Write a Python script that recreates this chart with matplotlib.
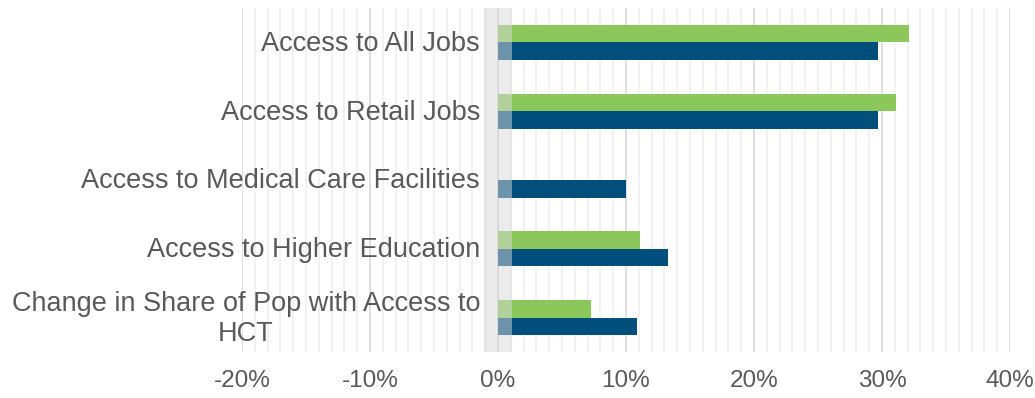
import numpy as np
import matplotlib.pyplot as plt
from matplotlib.ticker import MultipleLocator, FuncFormatter

# change in access, percent
categories = ["Access to All Jobs", "Access to Retail Jobs",
              "Access to Medical Care Facilities", "Access to Higher Education",
              "Change in Share of Pop with Access to\nHCT"]
green_vals = [32.1, 31.1, 0.0, 11.1, 7.3]
blue_vals = [29.7, 29.7, 10.0, 13.3, 10.9]

GREEN = "#8BC75B"
BLUE = "#004E7C"
TEXT = "#595959"

plt.rcParams['font.family'] = ['Liberation Sans', 'DejaVu Sans']

fig = plt.figure(figsize=(10.35, 3.98), dpi=100)
ax = fig.add_axes([0.2338, 0.1156, 0.7420, 0.8643])

y = np.arange(len(categories))
h = 0.255
ax.barh(y - h / 2, green_vals, height=h, color=GREEN, zorder=3)
ax.barh(y + h / 2, blue_vals, height=h, color=BLUE, zorder=3)

# grey band around zero, laid over the bar roots
ax.axvspan(-1.1, 1.1, color="#D9D9D9", alpha=0.5, lw=0, zorder=4)
ax.axvline(0, color="#D9D9D9", lw=1.2, zorder=2)

ax.set_xlim(-20, 40)
ax.set_ylim(len(categories) - 0.5, -0.5)
ax.xaxis.set_major_locator(MultipleLocator(10))
ax.xaxis.set_minor_locator(MultipleLocator(1))
ax.xaxis.set_major_formatter(FuncFormatter(lambda v, p: f"{v:.0f}%"))
ax.grid(axis="x", which="major", color="#D9D9D9", lw=1.2, zorder=1)
ax.grid(axis="x", which="minor", color="#F0F0F0", lw=1.2, zorder=1)
ax.set_axisbelow(True)

ax.tick_params(axis="x", which="both", length=0, labelsize=17.5,
               labelcolor=TEXT, pad=13)
ax.set_yticks([])
for s in ax.spines.values():
    s.set_visible(False)

for yi, lab in zip(y, categories):
    ax.text(-1.4, yi + 0.02, lab, ha="right", va="center", fontsize=19.5,
            color=TEXT, multialignment="center", linespacing=1.2, zorder=5)

fig.savefig("out.png", dpi=100)
